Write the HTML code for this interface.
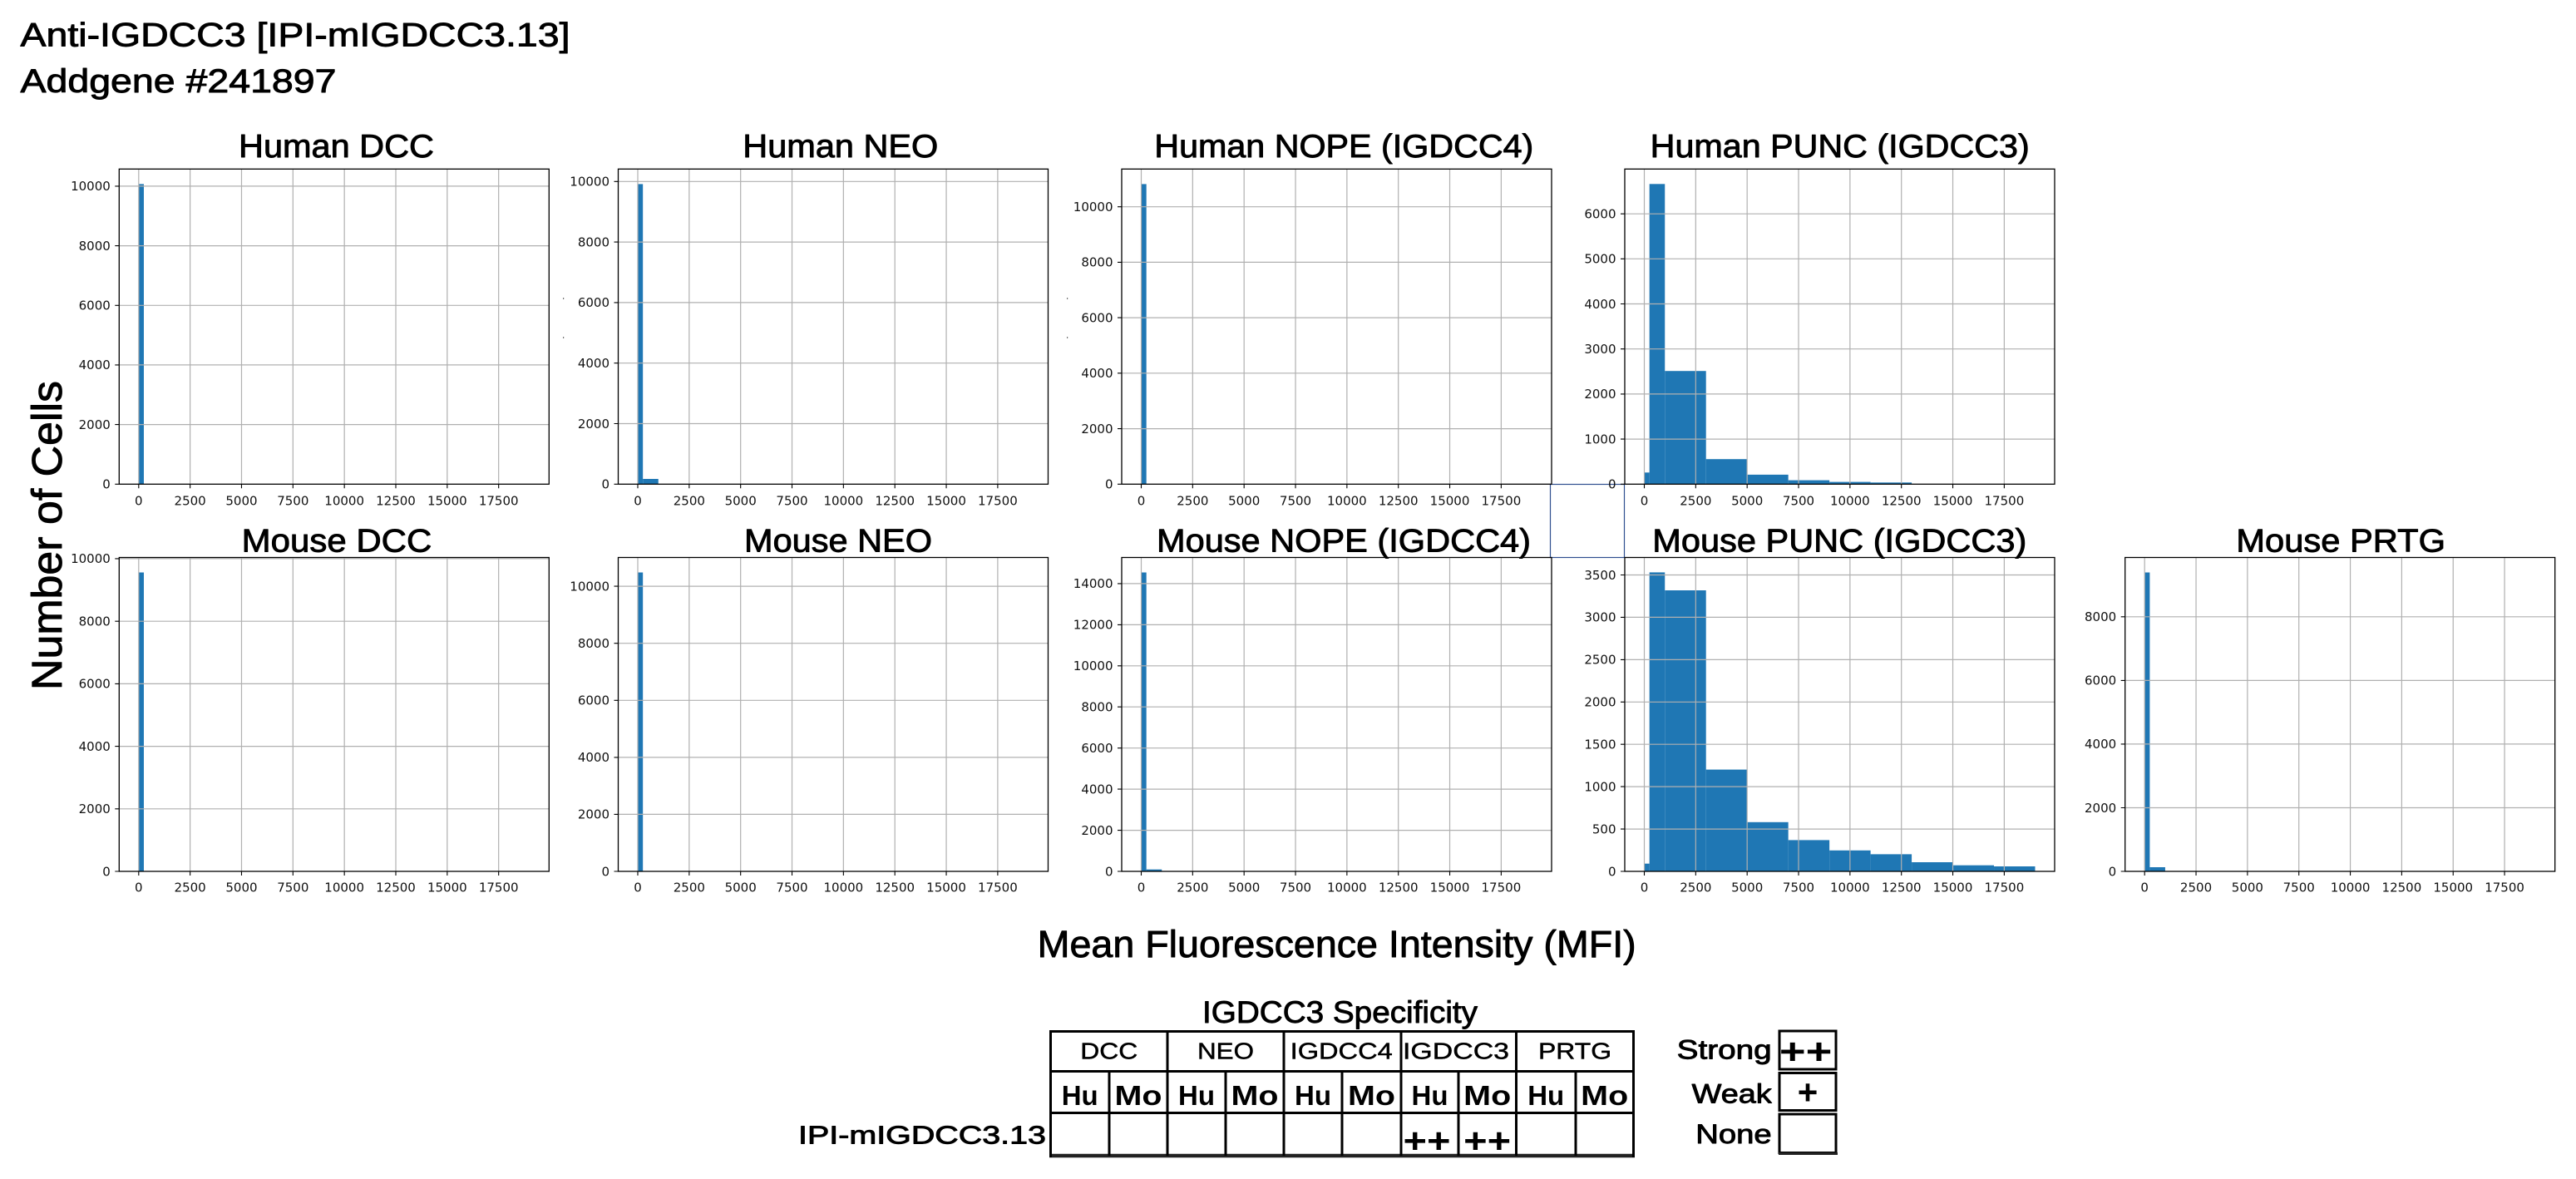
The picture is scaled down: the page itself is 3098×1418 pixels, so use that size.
<!DOCTYPE html>
<html>
<head>
<meta charset="utf-8">
<style>
html,body{margin:0;padding:0;background:#fff;}
svg{display:block;}
.t{font-family:"Liberation Sans",Arial,sans-serif;fill:#000;}
.h{stroke:#000;stroke-width:0.9;stroke-linejoin:round;}
.hs{stroke:#000;stroke-width:0.5;stroke-linejoin:round;}
.b{font-weight:bold;}
.tk{font-family:"DejaVu Sans",sans-serif;font-size:15px;fill:#111;}
.xl{text-anchor:middle;}
.yl{text-anchor:end;}
.bar{fill:#1f77b4;}
.grid{stroke:#b0b0b0;stroke-width:1.2;fill:none;}
.frame{fill:none;stroke:#000;stroke-width:1.3;}
.tick{stroke:#000;stroke-width:1.1;fill:none;}
.tb{stroke:#000;stroke-width:3;fill:none;}
</style>
</head>
<body>
<svg width="3098" height="1418" viewBox="0 0 3098 1418" xmlns="http://www.w3.org/2000/svg">
<rect x="0" y="0" width="3098" height="1418" fill="#fff"/>

<!-- Header -->
<text class="t h" x="24.5" y="55.5" font-size="40" textLength="661" lengthAdjust="spacingAndGlyphs">Anti-IGDCC3 [IPI-mIGDCC3.13]</text>
<text class="t h" x="24.5" y="111" font-size="40" textLength="380" lengthAdjust="spacingAndGlyphs">Addgene #241897</text>

<!-- Panel titles -->
<text class="t h" x="287" y="189" font-size="39" textLength="235" lengthAdjust="spacingAndGlyphs">Human DCC</text>
<text class="t h" x="893.3" y="189" font-size="39" textLength="235" lengthAdjust="spacingAndGlyphs">Human NEO</text>
<text class="t h" x="1388.3" y="189" font-size="39" textLength="456" lengthAdjust="spacingAndGlyphs">Human NOPE (IGDCC4)</text>
<text class="t h" x="1984.7" y="189" font-size="39" textLength="456" lengthAdjust="spacingAndGlyphs">Human PUNC (IGDCC3)</text>
<text class="t h" x="290.7" y="663.3" font-size="39" textLength="228.6" lengthAdjust="spacingAndGlyphs">Mouse DCC</text>
<text class="t h" x="895" y="663.3" font-size="39" textLength="226" lengthAdjust="spacingAndGlyphs">Mouse NEO</text>
<text class="t h" x="1391" y="663.3" font-size="39" textLength="450" lengthAdjust="spacingAndGlyphs">Mouse NOPE (IGDCC4)</text>
<text class="t h" x="1987.3" y="663.3" font-size="39" textLength="450" lengthAdjust="spacingAndGlyphs">Mouse PUNC (IGDCC3)</text>
<text class="t h" x="2689.3" y="663.3" font-size="39" textLength="251.7" lengthAdjust="spacingAndGlyphs">Mouse PRTG</text>

<!-- Axis labels -->
<text class="t h" transform="translate(74,830) rotate(-90)" font-size="51" textLength="372" lengthAdjust="spacingAndGlyphs">Number of Cells</text>
<text class="t h" x="1247.7" y="1151" font-size="45.5" textLength="720" lengthAdjust="spacingAndGlyphs">Mean Fluorescence Intensity (MFI)</text>

<!-- odd blue rectangle -->
<rect x="1864.5" y="582.5" width="89" height="88" fill="none" stroke="#2f4f8f" stroke-width="1.2"/>
<!-- tiny artifacts -->
<rect x="677" y="358" width="1.2" height="2" fill="#777"/>
<rect x="677" y="405" width="1.2" height="2" fill="#777"/>
<rect x="1283" y="358" width="1.2" height="2" fill="#777"/>
<rect x="1283" y="405" width="1.2" height="2" fill="#777"/>

<!-- ============ Panel 1: Human DCC ============ -->
<g transform="translate(143.3,0)">
<rect class="bar" x="23.5" y="221.4" width="6.18" height="360.9"/>
<path class="grid" d="M23.5 203.3V582.3M85.34 203.3V582.3M147.18 203.3V582.3M209.02 203.3V582.3M270.86 203.3V582.3M332.7 203.3V582.3M394.54 203.3V582.3M456.38 203.3V582.3"/>
<path class="grid" d="M0 510.6H517M0 438.9H517M0 367.3H517M0 295.6H517M0 223.9H517"/>
<rect class="frame" x="0" y="203.3" width="517" height="379"/>
<path class="tick" d="M23.5 582.3v5M85.34 582.3v5M147.18 582.3v5M209.02 582.3v5M270.86 582.3v5M332.7 582.3v5M394.54 582.3v5M456.38 582.3v5"/>
<path class="tick" d="M-5 582.3H0M-5 510.6H0M-5 438.9H0M-5 367.3H0M-5 295.6H0M-5 223.9H0"/>
<text class="tk yl" x="-10.5" y="587.6">0</text>
<text class="tk yl" x="-10.5" y="515.9">2000</text>
<text class="tk yl" x="-10.5" y="444.2">4000</text>
<text class="tk yl" x="-10.5" y="372.6">6000</text>
<text class="tk yl" x="-10.5" y="300.9">8000</text>
<text class="tk yl" x="-10.5" y="229.2">10000</text>
<text class="tk xl" x="23.5" y="607.3">0</text>
<text class="tk xl" x="85.34" y="607.3">2500</text>
<text class="tk xl" x="147.18" y="607.3">5000</text>
<text class="tk xl" x="209.02" y="607.3">7500</text>
<text class="tk xl" x="270.86" y="607.3">10000</text>
<text class="tk xl" x="332.7" y="607.3">12500</text>
<text class="tk xl" x="394.54" y="607.3">15000</text>
<text class="tk xl" x="456.38" y="607.3">17500</text>
</g>

<!-- ============ Panel 2: Human NEO ============ -->
<g transform="translate(743.5,0)">
<rect class="bar" x="23.5" y="221.4" width="6.18" height="360.9"/>
<rect class="bar" x="29.68" y="576.0" width="18.56" height="6.3"/>
<path class="grid" d="M23.5 203.3V582.3M85.34 203.3V582.3M147.18 203.3V582.3M209.02 203.3V582.3M270.86 203.3V582.3M332.7 203.3V582.3M394.54 203.3V582.3M456.38 203.3V582.3"/>
<path class="grid" d="M0 509.5H517M0 436.7H517M0 363.9H517M0 291.1H517M0 218.3H517"/>
<rect class="frame" x="0" y="203.3" width="517" height="379"/>
<path class="tick" d="M23.5 582.3v5M85.34 582.3v5M147.18 582.3v5M209.02 582.3v5M270.86 582.3v5M332.7 582.3v5M394.54 582.3v5M456.38 582.3v5"/>
<path class="tick" d="M-5 582.3H0M-5 509.5H0M-5 436.7H0M-5 363.9H0M-5 291.1H0M-5 218.3H0"/>
<text class="tk yl" x="-10.5" y="587.6">0</text>
<text class="tk yl" x="-10.5" y="514.8">2000</text>
<text class="tk yl" x="-10.5" y="442.0">4000</text>
<text class="tk yl" x="-10.5" y="369.2">6000</text>
<text class="tk yl" x="-10.5" y="296.4">8000</text>
<text class="tk yl" x="-10.5" y="223.6">10000</text>
<text class="tk xl" x="23.5" y="607.3">0</text>
<text class="tk xl" x="85.34" y="607.3">2500</text>
<text class="tk xl" x="147.18" y="607.3">5000</text>
<text class="tk xl" x="209.02" y="607.3">7500</text>
<text class="tk xl" x="270.86" y="607.3">10000</text>
<text class="tk xl" x="332.7" y="607.3">12500</text>
<text class="tk xl" x="394.54" y="607.3">15000</text>
<text class="tk xl" x="456.38" y="607.3">17500</text>
</g>

<!-- ============ Panel 3: Human NOPE ============ -->
<g transform="translate(1349,0)">
<rect class="bar" x="23.5" y="221.4" width="6.18" height="360.9"/>
<path class="grid" d="M23.5 203.3V582.3M85.34 203.3V582.3M147.18 203.3V582.3M209.02 203.3V582.3M270.86 203.3V582.3M332.7 203.3V582.3M394.54 203.3V582.3M456.38 203.3V582.3"/>
<path class="grid" d="M0 515.6H517M0 448.8H517M0 382.1H517M0 315.4H517M0 248.7H517"/>
<rect class="frame" x="0" y="203.3" width="517" height="379"/>
<path class="tick" d="M23.5 582.3v5M85.34 582.3v5M147.18 582.3v5M209.02 582.3v5M270.86 582.3v5M332.7 582.3v5M394.54 582.3v5M456.38 582.3v5"/>
<path class="tick" d="M-5 582.3H0M-5 515.6H0M-5 448.8H0M-5 382.1H0M-5 315.4H0M-5 248.7H0"/>
<text class="tk yl" x="-10.5" y="587.6">0</text>
<text class="tk yl" x="-10.5" y="520.9">2000</text>
<text class="tk yl" x="-10.5" y="454.1">4000</text>
<text class="tk yl" x="-10.5" y="387.4">6000</text>
<text class="tk yl" x="-10.5" y="320.7">8000</text>
<text class="tk yl" x="-10.5" y="254.0">10000</text>
<text class="tk xl" x="23.5" y="607.3">0</text>
<text class="tk xl" x="85.34" y="607.3">2500</text>
<text class="tk xl" x="147.18" y="607.3">5000</text>
<text class="tk xl" x="209.02" y="607.3">7500</text>
<text class="tk xl" x="270.86" y="607.3">10000</text>
<text class="tk xl" x="332.7" y="607.3">12500</text>
<text class="tk xl" x="394.54" y="607.3">15000</text>
<text class="tk xl" x="456.38" y="607.3">17500</text>
</g>

<!-- ============ Panel 4: Human PUNC ============ -->
<g transform="translate(1954,0)">
<rect class="bar" x="23.5" y="568.3" width="6.18" height="14.0"/>
<rect class="bar" x="29.68" y="221.3" width="18.56" height="361.0"/>
<rect class="bar" x="48.24" y="446.2" width="49.47" height="136.1"/>
<rect class="bar" x="97.71" y="552.2" width="49.48" height="30.1"/>
<rect class="bar" x="147.19" y="570.9" width="49.47" height="11.4"/>
<rect class="bar" x="196.66" y="577.6" width="49.47" height="4.7"/>
<rect class="bar" x="246.13" y="579.6" width="49.48" height="2.7"/>
<rect class="bar" x="295.61" y="580.3" width="49.47" height="2.0"/>
<path class="grid" d="M23.5 203.3V582.3M85.34 203.3V582.3M147.18 203.3V582.3M209.02 203.3V582.3M270.86 203.3V582.3M332.7 203.3V582.3M394.54 203.3V582.3M456.38 203.3V582.3"/>
<path class="grid" d="M0 528.1H517M0 473.9H517M0 419.7H517M0 365.5H517M0 311.3H517M0 257.2H517"/>
<rect class="frame" x="0" y="203.3" width="517" height="379"/>
<path class="tick" d="M23.5 582.3v5M85.34 582.3v5M147.18 582.3v5M209.02 582.3v5M270.86 582.3v5M332.7 582.3v5M394.54 582.3v5M456.38 582.3v5"/>
<path class="tick" d="M-5 582.3H0M-5 528.1H0M-5 473.9H0M-5 419.7H0M-5 365.5H0M-5 311.3H0M-5 257.2H0"/>
<text class="tk yl" x="-10.5" y="587.6">0</text>
<text class="tk yl" x="-10.5" y="533.4">1000</text>
<text class="tk yl" x="-10.5" y="479.2">2000</text>
<text class="tk yl" x="-10.5" y="425.0">3000</text>
<text class="tk yl" x="-10.5" y="370.8">4000</text>
<text class="tk yl" x="-10.5" y="316.6">5000</text>
<text class="tk yl" x="-10.5" y="262.5">6000</text>
<text class="tk xl" x="23.5" y="607.3">0</text>
<text class="tk xl" x="85.34" y="607.3">2500</text>
<text class="tk xl" x="147.18" y="607.3">5000</text>
<text class="tk xl" x="209.02" y="607.3">7500</text>
<text class="tk xl" x="270.86" y="607.3">10000</text>
<text class="tk xl" x="332.7" y="607.3">12500</text>
<text class="tk xl" x="394.54" y="607.3">15000</text>
<text class="tk xl" x="456.38" y="607.3">17500</text>
</g>

<!-- ============ Panel 5: Mouse DCC ============ -->
<g transform="translate(143.3,0)">
<rect class="bar" x="23.5" y="688.5" width="6.18" height="359.5"/>
<path class="grid" d="M23.5 670.5V1048M85.34 670.5V1048M147.18 670.5V1048M209.02 670.5V1048M270.86 670.5V1048M332.7 670.5V1048M394.54 670.5V1048M456.38 670.5V1048"/>
<path class="grid" d="M0 972.8H517M0 897.6H517M0 822.4H517M0 747.2H517M0 671.9H517"/>
<rect class="frame" x="0" y="670.5" width="517" height="377.5"/>
<path class="tick" d="M23.5 1048v5M85.34 1048v5M147.18 1048v5M209.02 1048v5M270.86 1048v5M332.7 1048v5M394.54 1048v5M456.38 1048v5"/>
<path class="tick" d="M-5 1048H0M-5 972.8H0M-5 897.6H0M-5 822.4H0M-5 747.2H0M-5 671.9H0"/>
<text class="tk yl" x="-10.5" y="1053.3">0</text>
<text class="tk yl" x="-10.5" y="978.1">2000</text>
<text class="tk yl" x="-10.5" y="902.9">4000</text>
<text class="tk yl" x="-10.5" y="827.7">6000</text>
<text class="tk yl" x="-10.5" y="752.5">8000</text>
<text class="tk yl" x="-10.5" y="677.2">10000</text>
<text class="tk xl" x="23.5" y="1072.5">0</text>
<text class="tk xl" x="85.34" y="1072.5">2500</text>
<text class="tk xl" x="147.18" y="1072.5">5000</text>
<text class="tk xl" x="209.02" y="1072.5">7500</text>
<text class="tk xl" x="270.86" y="1072.5">10000</text>
<text class="tk xl" x="332.7" y="1072.5">12500</text>
<text class="tk xl" x="394.54" y="1072.5">15000</text>
<text class="tk xl" x="456.38" y="1072.5">17500</text>
</g>

<!-- ============ Panel 6: Mouse NEO ============ -->
<g transform="translate(743.5,0)">
<rect class="bar" x="23.5" y="688.5" width="6.18" height="359.5"/>
<path class="grid" d="M23.5 670.5V1048M85.34 670.5V1048M147.18 670.5V1048M209.02 670.5V1048M270.86 670.5V1048M332.7 670.5V1048M394.54 670.5V1048M456.38 670.5V1048"/>
<path class="grid" d="M0 979.4H517M0 910.9H517M0 842.3H517M0 773.7H517M0 705.1H517"/>
<rect class="frame" x="0" y="670.5" width="517" height="377.5"/>
<path class="tick" d="M23.5 1048v5M85.34 1048v5M147.18 1048v5M209.02 1048v5M270.86 1048v5M332.7 1048v5M394.54 1048v5M456.38 1048v5"/>
<path class="tick" d="M-5 1048H0M-5 979.4H0M-5 910.9H0M-5 842.3H0M-5 773.7H0M-5 705.1H0"/>
<text class="tk yl" x="-10.5" y="1053.3">0</text>
<text class="tk yl" x="-10.5" y="984.7">2000</text>
<text class="tk yl" x="-10.5" y="916.2">4000</text>
<text class="tk yl" x="-10.5" y="847.6">6000</text>
<text class="tk yl" x="-10.5" y="779.0">8000</text>
<text class="tk yl" x="-10.5" y="710.4">10000</text>
<text class="tk xl" x="23.5" y="1072.5">0</text>
<text class="tk xl" x="85.34" y="1072.5">2500</text>
<text class="tk xl" x="147.18" y="1072.5">5000</text>
<text class="tk xl" x="209.02" y="1072.5">7500</text>
<text class="tk xl" x="270.86" y="1072.5">10000</text>
<text class="tk xl" x="332.7" y="1072.5">12500</text>
<text class="tk xl" x="394.54" y="1072.5">15000</text>
<text class="tk xl" x="456.38" y="1072.5">17500</text>
</g>

<!-- ============ Panel 7: Mouse NOPE ============ -->
<g transform="translate(1349,0)">
<rect class="bar" x="23.5" y="688.5" width="6.18" height="359.5"/>
<rect class="bar" x="29.68" y="1045.7" width="18.56" height="2.3"/>
<path class="grid" d="M23.5 670.5V1048M85.34 670.5V1048M147.18 670.5V1048M209.02 670.5V1048M270.86 670.5V1048M332.7 670.5V1048M394.54 670.5V1048M456.38 670.5V1048"/>
<path class="grid" d="M0 998.6H517M0 949.1H517M0 899.7H517M0 850.2H517M0 800.8H517M0 751.4H517M0 701.9H517"/>
<rect class="frame" x="0" y="670.5" width="517" height="377.5"/>
<path class="tick" d="M23.5 1048v5M85.34 1048v5M147.18 1048v5M209.02 1048v5M270.86 1048v5M332.7 1048v5M394.54 1048v5M456.38 1048v5"/>
<path class="tick" d="M-5 1048H0M-5 998.6H0M-5 949.1H0M-5 899.7H0M-5 850.2H0M-5 800.8H0M-5 751.4H0M-5 701.9H0"/>
<text class="tk yl" x="-10.5" y="1053.3">0</text>
<text class="tk yl" x="-10.5" y="1003.9">2000</text>
<text class="tk yl" x="-10.5" y="954.4">4000</text>
<text class="tk yl" x="-10.5" y="905.0">6000</text>
<text class="tk yl" x="-10.5" y="855.5">8000</text>
<text class="tk yl" x="-10.5" y="806.1">10000</text>
<text class="tk yl" x="-10.5" y="756.7">12000</text>
<text class="tk yl" x="-10.5" y="707.2">14000</text>
<text class="tk xl" x="23.5" y="1072.5">0</text>
<text class="tk xl" x="85.34" y="1072.5">2500</text>
<text class="tk xl" x="147.18" y="1072.5">5000</text>
<text class="tk xl" x="209.02" y="1072.5">7500</text>
<text class="tk xl" x="270.86" y="1072.5">10000</text>
<text class="tk xl" x="332.7" y="1072.5">12500</text>
<text class="tk xl" x="394.54" y="1072.5">15000</text>
<text class="tk xl" x="456.38" y="1072.5">17500</text>
</g>

<!-- ============ Panel 8: Mouse PUNC ============ -->
<g transform="translate(1954,0)">
<rect class="bar" x="23.5" y="1038.7" width="6.18" height="9.3"/>
<rect class="bar" x="29.68" y="688.4" width="18.56" height="359.6"/>
<rect class="bar" x="48.24" y="710.0" width="49.47" height="338.0"/>
<rect class="bar" x="97.71" y="925.6" width="49.48" height="122.4"/>
<rect class="bar" x="147.19" y="988.8" width="49.47" height="59.2"/>
<rect class="bar" x="196.66" y="1010.4" width="49.47" height="37.6"/>
<rect class="bar" x="246.13" y="1022.8" width="49.48" height="25.2"/>
<rect class="bar" x="295.61" y="1027.4" width="49.47" height="20.6"/>
<rect class="bar" x="345.08" y="1037.0" width="49.47" height="11.0"/>
<rect class="bar" x="394.55" y="1040.7" width="49.48" height="7.3"/>
<rect class="bar" x="444.03" y="1042.0" width="49.47" height="6.0"/>
<path class="grid" d="M23.5 670.5V1048M85.34 670.5V1048M147.18 670.5V1048M209.02 670.5V1048M270.86 670.5V1048M332.7 670.5V1048M394.54 670.5V1048M456.38 670.5V1048"/>
<path class="grid" d="M0 997.1H517M0 946.1H517M0 895.2H517M0 844.3H517M0 793.4H517M0 742.4H517M0 691.5H517"/>
<rect class="frame" x="0" y="670.5" width="517" height="377.5"/>
<path class="tick" d="M23.5 1048v5M85.34 1048v5M147.18 1048v5M209.02 1048v5M270.86 1048v5M332.7 1048v5M394.54 1048v5M456.38 1048v5"/>
<path class="tick" d="M-5 1048H0M-5 997.1H0M-5 946.1H0M-5 895.2H0M-5 844.3H0M-5 793.4H0M-5 742.4H0M-5 691.5H0"/>
<text class="tk yl" x="-10.5" y="1053.3">0</text>
<text class="tk yl" x="-10.5" y="1002.4">500</text>
<text class="tk yl" x="-10.5" y="951.4">1000</text>
<text class="tk yl" x="-10.5" y="900.5">1500</text>
<text class="tk yl" x="-10.5" y="849.6">2000</text>
<text class="tk yl" x="-10.5" y="798.7">2500</text>
<text class="tk yl" x="-10.5" y="747.7">3000</text>
<text class="tk yl" x="-10.5" y="696.8">3500</text>
<text class="tk xl" x="23.5" y="1072.5">0</text>
<text class="tk xl" x="85.34" y="1072.5">2500</text>
<text class="tk xl" x="147.18" y="1072.5">5000</text>
<text class="tk xl" x="209.02" y="1072.5">7500</text>
<text class="tk xl" x="270.86" y="1072.5">10000</text>
<text class="tk xl" x="332.7" y="1072.5">12500</text>
<text class="tk xl" x="394.54" y="1072.5">15000</text>
<text class="tk xl" x="456.38" y="1072.5">17500</text>
</g>

<!-- ============ Panel 9: Mouse PRTG ============ -->
<g transform="translate(2555.7,0)">
<rect class="bar" x="23.5" y="688.5" width="6.18" height="359.5"/>
<rect class="bar" x="29.68" y="1043" width="18.56" height="5"/>
<path class="grid" d="M23.5 670.5V1048M85.34 670.5V1048M147.18 670.5V1048M209.02 670.5V1048M270.86 670.5V1048M332.7 670.5V1048M394.54 670.5V1048M456.38 670.5V1048"/>
<path class="grid" d="M0 971.5H517M0 894.9H517M0 818.4H517M0 741.8H517"/>
<rect class="frame" x="0" y="670.5" width="517" height="377.5"/>
<path class="tick" d="M23.5 1048v5M85.34 1048v5M147.18 1048v5M209.02 1048v5M270.86 1048v5M332.7 1048v5M394.54 1048v5M456.38 1048v5"/>
<path class="tick" d="M-5 1048H0M-5 971.5H0M-5 894.9H0M-5 818.4H0M-5 741.8H0"/>
<text class="tk yl" x="-10.5" y="1053.3">0</text>
<text class="tk yl" x="-10.5" y="976.8">2000</text>
<text class="tk yl" x="-10.5" y="900.2">4000</text>
<text class="tk yl" x="-10.5" y="823.7">6000</text>
<text class="tk yl" x="-10.5" y="747.1">8000</text>
<text class="tk xl" x="23.5" y="1072.5">0</text>
<text class="tk xl" x="85.34" y="1072.5">2500</text>
<text class="tk xl" x="147.18" y="1072.5">5000</text>
<text class="tk xl" x="209.02" y="1072.5">7500</text>
<text class="tk xl" x="270.86" y="1072.5">10000</text>
<text class="tk xl" x="332.7" y="1072.5">12500</text>
<text class="tk xl" x="394.54" y="1072.5">15000</text>
<text class="tk xl" x="456.38" y="1072.5">17500</text>
</g>

<!-- ============ Specificity table ============ -->
<text class="t h" x="1446" y="1230" font-size="37" textLength="331" lengthAdjust="spacingAndGlyphs">IGDCC3 Specificity</text>

<!-- table lines -->
<path class="tb" d="M1263.5 1240.5H1964.5M1263.5 1288.5H1964.5M1263.5 1338.5H1964.5"/>
<path d="M1262 1390H1966" stroke="#222" stroke-width="4.5" fill="none"/>
<path class="tb" d="M1263.5 1239V1392M1404 1240.5V1390M1544 1240.5V1390M1685 1240.5V1390M1823.5 1240.5V1390M1964.5 1239V1392"/>
<path class="tb" d="M1334 1288.5V1390M1474 1288.5V1390M1614 1288.5V1390M1754 1288.5V1390M1895 1288.5V1390"/>

<!-- group headers -->
<text class="t hs" x="1299.3" y="1273.3" font-size="28" textLength="69" lengthAdjust="spacingAndGlyphs">DCC</text>
<text class="t hs" x="1440" y="1273.3" font-size="28" textLength="68" lengthAdjust="spacingAndGlyphs">NEO</text>
<text class="t hs" x="1551.7" y="1273.3" font-size="28" textLength="123" lengthAdjust="spacingAndGlyphs">IGDCC4</text>
<text class="t hs" x="1687" y="1273.3" font-size="28" textLength="128" lengthAdjust="spacingAndGlyphs">IGDCC3</text>
<text class="t hs" x="1850" y="1273.3" font-size="28" textLength="88" lengthAdjust="spacingAndGlyphs">PRTG</text>

<!-- Hu / Mo -->
<g class="t b" font-size="33" text-anchor="middle">
<text x="1298.7" y="1329" textLength="44" lengthAdjust="spacingAndGlyphs">Hu</text>
<text x="1369" y="1329" textLength="57" lengthAdjust="spacingAndGlyphs">Mo</text>
<text x="1439" y="1329" textLength="44" lengthAdjust="spacingAndGlyphs">Hu</text>
<text x="1509" y="1329" textLength="57" lengthAdjust="spacingAndGlyphs">Mo</text>
<text x="1579" y="1329" textLength="44" lengthAdjust="spacingAndGlyphs">Hu</text>
<text x="1649.5" y="1329" textLength="57" lengthAdjust="spacingAndGlyphs">Mo</text>
<text x="1719.5" y="1329" textLength="44" lengthAdjust="spacingAndGlyphs">Hu</text>
<text x="1788.7" y="1329" textLength="57" lengthAdjust="spacingAndGlyphs">Mo</text>
<text x="1859.2" y="1329" textLength="44" lengthAdjust="spacingAndGlyphs">Hu</text>
<text x="1929.7" y="1329" textLength="57" lengthAdjust="spacingAndGlyphs">Mo</text>
</g>

<!-- data row -->
<g class="t b" font-size="42" text-anchor="middle">
<text x="1716" y="1386.4" textLength="57" lengthAdjust="spacingAndGlyphs">++</text>
<text x="1788.7" y="1386.4" textLength="57" lengthAdjust="spacingAndGlyphs">++</text>
</g>

<text class="t h" x="960" y="1375.7" font-size="31" textLength="298" lengthAdjust="spacingAndGlyphs">IPI-mIGDCC3.13</text>

<!-- ============ Legend ============ -->
<g class="t h" font-size="32" text-anchor="end">
<text x="2130.7" y="1273.3" textLength="114" lengthAdjust="spacingAndGlyphs">Strong</text>
<text x="2130.7" y="1326.7" textLength="96" lengthAdjust="spacingAndGlyphs">Weak</text>
<text x="2130.7" y="1375" textLength="91.4" lengthAdjust="spacingAndGlyphs">None</text>
</g>
<rect class="tb" x="2140" y="1240" width="68" height="46"/>
<rect class="tb" x="2140" y="1290.5" width="68" height="45"/>
<rect class="tb" x="2140" y="1340" width="68" height="46.5"/>
<path d="M2139 1387.5H2210" stroke="#222" stroke-width="3" fill="none"/>
<g class="t b" text-anchor="middle">
<text x="2171.7" y="1279.7" font-size="44" textLength="63.5" lengthAdjust="spacingAndGlyphs">++</text>
<text x="2174" y="1328" font-size="42">+</text>
</g>

</svg>
</body>
</html>
